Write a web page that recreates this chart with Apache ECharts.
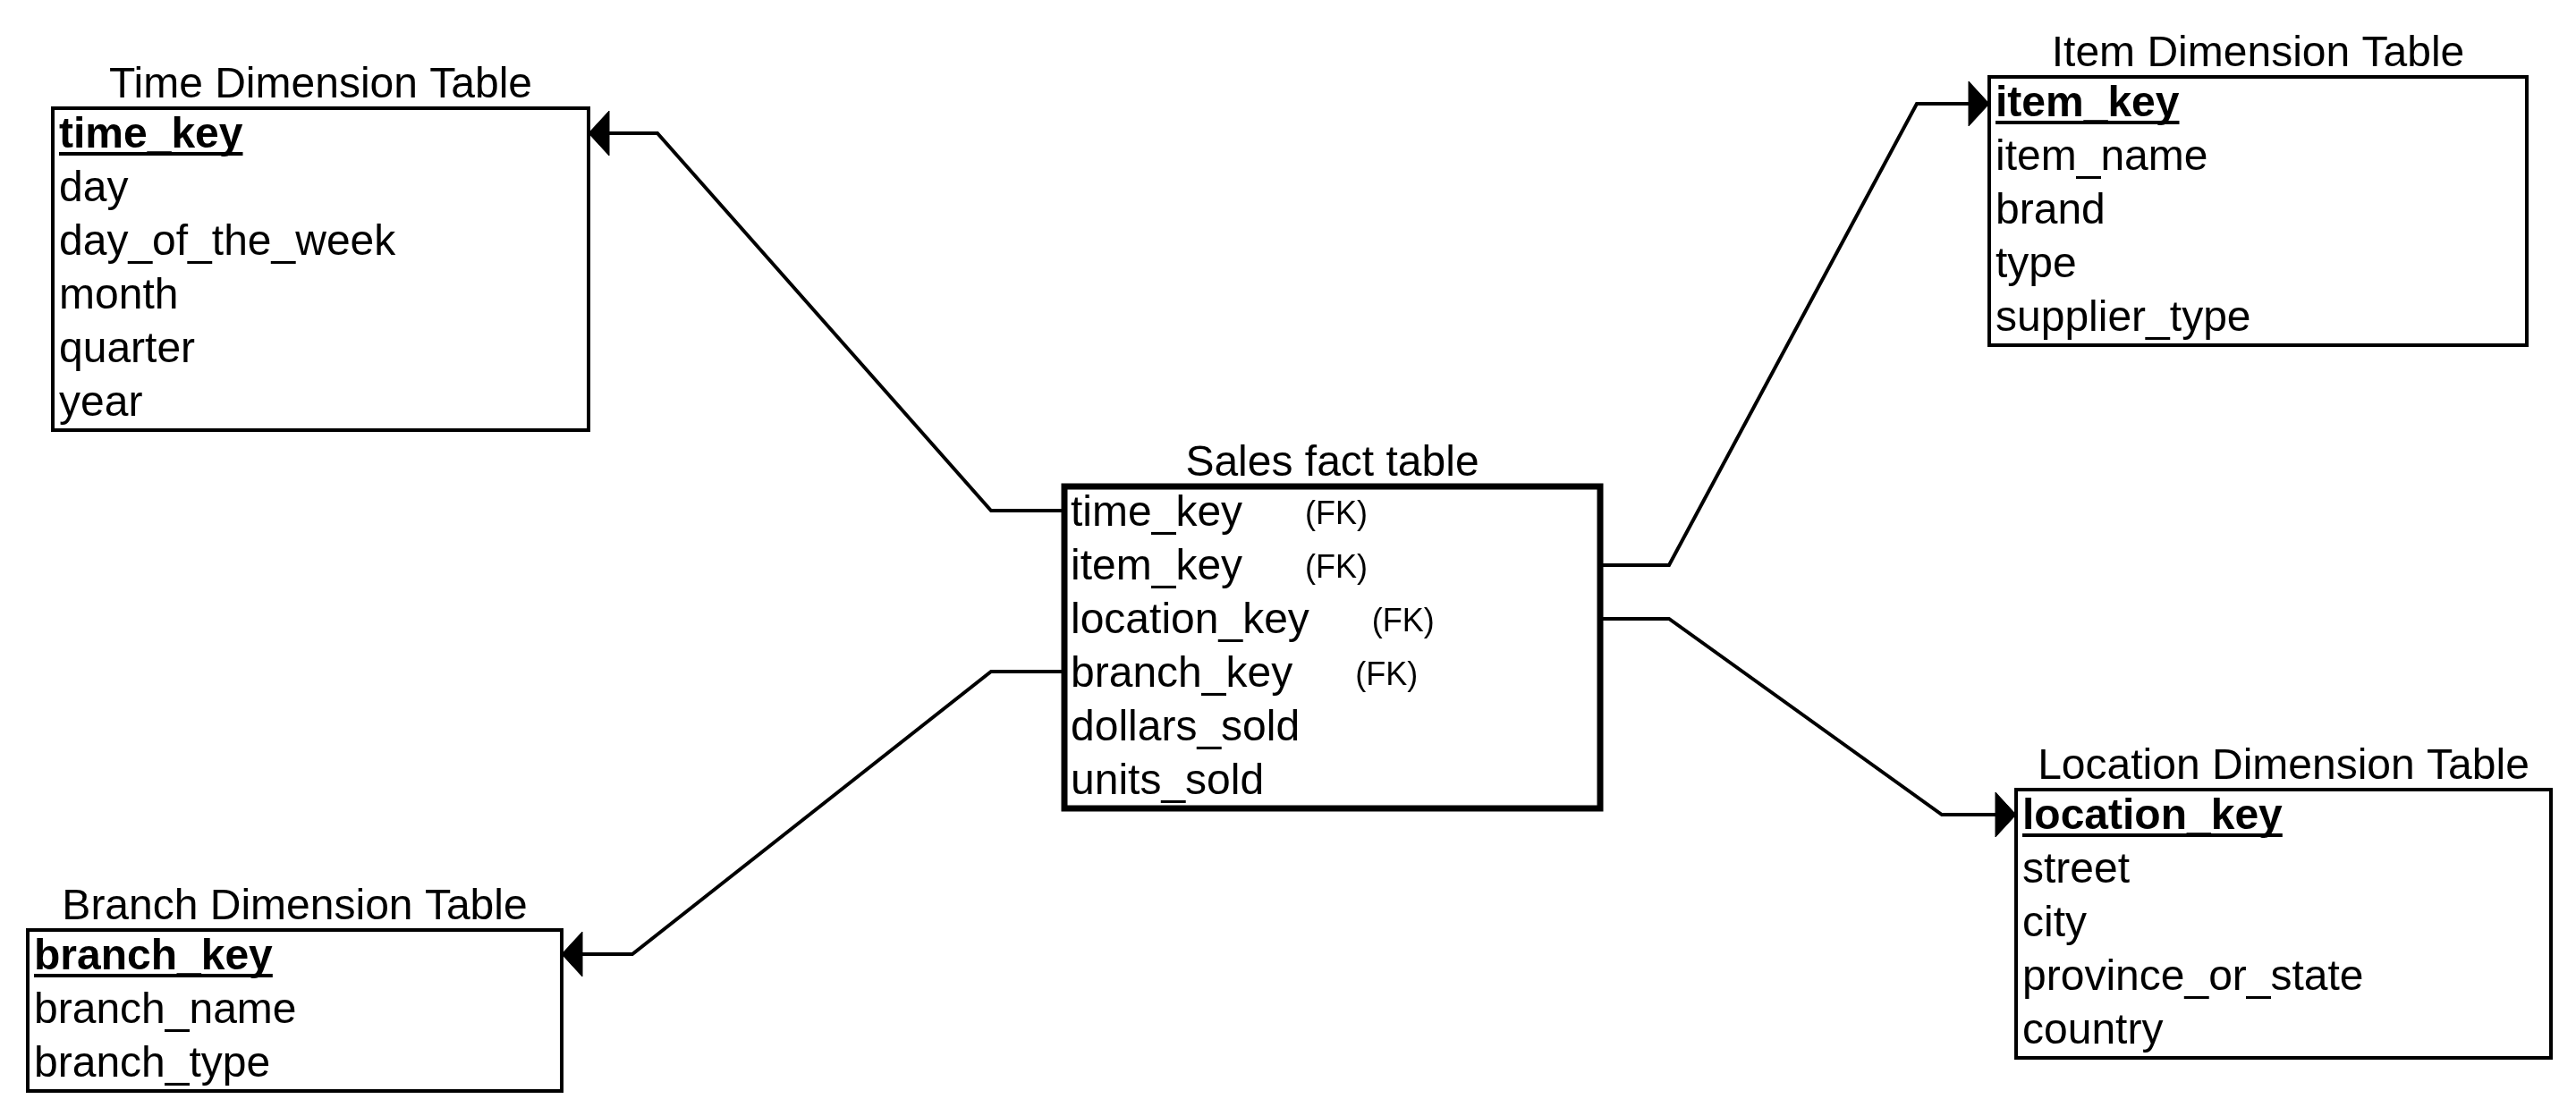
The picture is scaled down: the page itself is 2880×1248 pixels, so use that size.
<!DOCTYPE html>
<html>
<head>
<meta charset="utf-8">
<script src="https://cdn.jsdelivr.net/npm/echarts@6/dist/echarts.min.js"></script>
<style>
html, body { margin: 0; padding: 0; background: #fff; }
#main { width: 2880px; height: 1248px; }
</style>
</head>
<body>
<div id="main"></div>
<script>
var tableNames = ['Time Dimension Table', 'Item Dimension Table', 'Sales fact table', 'Location Dimension Table', 'Branch Dimension Table'];
var timeFields = ['time_key', 'day', 'day_of_the_week', 'month', 'quarter', 'year'];
var itemFields = ['item_key', 'item_name', 'brand', 'type', 'supplier_type'];
var factFields = ['time_key', 'item_key', 'location_key', 'branch_key', 'dollars_sold', 'units_sold'];
var factTags = ['(FK)', '(FK)', '(FK)', '(FK)', '', ''];
var locationFields = ['location_key', 'street', 'city', 'province_or_state', 'country'];
var branchFields = ['branch_key', 'branch_name', 'branch_type'];

var tableFields = [timeFields, itemFields, factFields, locationFields, branchFields];
var tableTags = [[], [], factTags, [], []];
var hasPrimaryKey = [true, true, false, true, true];

// layout, in the 2880 x 1248 coordinate space
var ROW = 60, FIRST = 31;
var FONT = '"Liberation Sans", Arial, sans-serif';
var boxes = [
    {x: 59,   y: 121,  w: 599, lw: 4},
    {x: 2224, y: 86,   w: 601, lw: 4},
    {x: 1190, y: 544,  w: 599, lw: 7},
    {x: 2254, y: 883,  w: 598, lw: 4},
    {x: 31,   y: 1040, w: 597, lw: 4}
];
// connector routes: from the fact table to the dimension key (arrow at the end)
var links = [
    [[1190, 571], [1108, 571], [735, 149], [658, 149]],
    [[1789, 632], [1866, 632], [2143, 116], [2224, 116]],
    [[1789, 692], [1866, 692], [2171, 911], [2254, 911]],
    [[1190, 751], [1108, 751], [707, 1067], [628, 1067]]
];

var measureCtx = document.createElement('canvas').getContext('2d');
function textWidth(txt, weight, size) {
    measureCtx.font = weight + ' ' + size + 'px ' + FONT;
    return measureCtx.measureText(txt).width;
}

function renderTable(params, api) {
    var i = params.dataIndex;
    var b = boxes[i];
    var fields = tableFields[i];
    var tl = api.coord([b.x, b.y]);
    var br = api.coord([b.x + b.w, b.y + fields.length * ROW]);
    var children = [{
        type: 'rect',
        shape: {x: tl[0], y: tl[1], width: br[0] - tl[0], height: br[1] - tl[1]},
        style: {fill: '#fff', stroke: '#000', lineWidth: b.lw}
    }, {
        type: 'text',
        style: {
            x: (tl[0] + br[0]) / 2, y: tl[1] - 25,
            text: tableNames[i], fill: '#000',
            font: 'normal 48px ' + FONT,
            align: 'center', verticalAlign: 'middle'
        }
    }];
    var tx = tl[0] + 7;
    fields.forEach(function (f, r) {
        var cy = tl[1] + FIRST + r * ROW;
        var isKey = hasPrimaryKey[i] && r === 0;
        var weight = isKey ? 'bold' : 'normal';
        children.push({
            type: 'text',
            style: {
                x: tx, y: cy, text: f, fill: '#000',
                font: weight + ' 48px ' + FONT,
                align: 'left', verticalAlign: 'middle'
            }
        });
        if (isKey) {
            children.push({
                type: 'line',
                shape: {x1: tx, y1: cy + 20, x2: tx + textWidth(f, 'bold', 48), y2: cy + 20},
                style: {stroke: '#000', lineWidth: 4}
            });
        }
        var tag = tableTags[i][r];
        if (tag) {
            children.push({
                type: 'text',
                style: {
                    x: tx + textWidth(f, 'normal', 48) + 70, y: cy + 1, text: tag, fill: '#000',
                    font: 'normal 36px ' + FONT,
                    align: 'left', verticalAlign: 'middle'
                }
            });
        }
    });
    return {type: 'group', children: children};
}

function renderLink(params, api) {
    var pts = links[params.dataIndex].map(function (p) { return api.coord(p); });
    var tip = pts[pts.length - 1], prev = pts[pts.length - 2];
    var dx = tip[0] - prev[0], dy = tip[1] - prev[1];
    var len = Math.sqrt(dx * dx + dy * dy);
    dx /= len; dy /= len;
    var L = 23, H = 25;
    var bx = tip[0] - dx * L, by = tip[1] - dy * L;
    var line = pts.slice(0, -1).concat([[bx, by]]);
    return {
        type: 'group',
        children: [{
            type: 'polyline',
            shape: {points: line},
            style: {stroke: '#000', lineWidth: 4, fill: null}
        }, {
            type: 'polygon',
            shape: {points: [tip, [bx - dy * H, by + dx * H], [bx + dy * H, by - dx * H]]},
            style: {fill: '#000', stroke: '#000', lineWidth: 1}
        }]
    };
}

var chart = echarts.init(document.getElementById('main'), null, {renderer: 'canvas'});
chart.setOption({
    animation: false,
    backgroundColor: '#fff',
    grid: {left: 0, right: 0, top: 0, bottom: 0},
    xAxis: {type: 'value', min: 0, max: 2880, show: false},
    yAxis: {type: 'value', min: 0, max: 1248, inverse: true, show: false},
    series: [{
        type: 'custom',
        coordinateSystem: 'cartesian2d',
        renderItem: renderLink,
        clip: false,
        silent: true,
        data: links.map(function (l) { return [l[0][0], l[0][1]]; })
    }, {
        type: 'custom',
        coordinateSystem: 'cartesian2d',
        renderItem: renderTable,
        clip: false,
        silent: true,
        data: boxes.map(function (b) { return [b.x, b.y]; })
    }]
});
</script>
</body>
</html>
